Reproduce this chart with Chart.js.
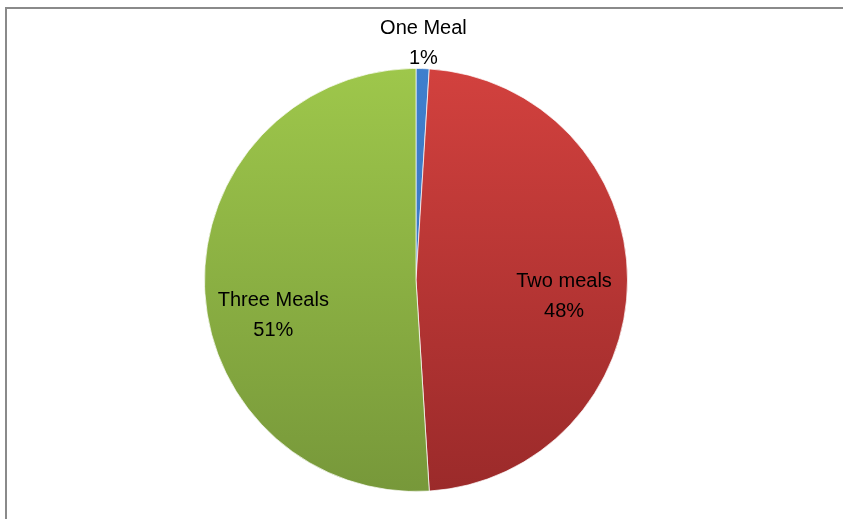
<!DOCTYPE html>
<html>
<head>
<meta charset="utf-8">
<script src="https://cdn.jsdelivr.net/npm/chart.js@4/dist/chart.umd.min.js"></script>
<style>
  html, body { margin: 0; padding: 0; background: #fff; }
  #wrap { width: 843px; height: 519px; }
</style>
</head>
<body>
<div id="wrap"><canvas id="myChart" width="843" height="519"></canvas></div>
<script>
const labels = ["One Meal", "Two meals", "Three Meals"];
const shares = [1, 48, 51];
// top / bottom shade of each slice
const topColors = ["#3f7fcd", "#d2413e", "#9ec74b"];
const bottomColors = ["#3a72b8", "#9b2a2a", "#77983a"];

// where each label sits: outside above the slice, or inside at a fraction of the radius
const labelPlace = [
  { outside: 25, dx: 0, dy: 0 },
  { frac: 0.70, dx: 0, dy: 16 },
  { frac: 0.675, dx: 0, dy: 31 },
];

function sliceFill(ctx) {
  const area = ctx.chart.chartArea;
  if (!area) return topColors[ctx.dataIndex];
  const g = ctx.chart.ctx.createLinearGradient(0, area.top, 0, area.bottom);
  g.addColorStop(0, topColors[ctx.dataIndex]);
  g.addColorStop(1, bottomColors[ctx.dataIndex]);
  return g;
}

const frame = {
  id: "frame",
  beforeDraw(chart) {
    const c = chart.ctx;
    c.save();
    c.fillStyle = "#fff";
    c.fillRect(0, 0, chart.width, chart.height);
    c.strokeStyle = "#8a8a8a";
    c.lineWidth = 2;
    c.beginPath();
    c.moveTo(6, chart.height + 5);
    c.lineTo(6, 8);
    c.lineTo(chart.width + 5, 8);
    c.stroke();
    c.restore();
  },
};

const sliceLabels = {
  id: "sliceLabels",
  afterDatasetsDraw(chart) {
    const c = chart.ctx;
    const meta = chart.getDatasetMeta(0);
    c.save();
    c.font = "20px 'Liberation Sans', Arial, sans-serif";
    c.fillStyle = "#000";
    c.textAlign = "center";
    c.textBaseline = "middle";
    meta.data.forEach((arc, i) => {
      const p = arc.getProps(["x", "y", "startAngle", "endAngle", "outerRadius"], true);
      const mid = (p.startAngle + p.endAngle) / 2;
      const place = labelPlace[i];
      const r = place.outside ? p.outerRadius + place.outside : p.outerRadius * place.frac;
      const x = p.x + Math.cos(mid) * r + place.dx;
      const y = p.y + Math.sin(mid) * r + place.dy;
      c.fillText(labels[i], x, y - 15);
      c.fillText(shares[i] + "%", x, y + 15);
    });
    c.restore();
  },
};

const ctx = document.getElementById("myChart").getContext("2d");
const myChart = new Chart(ctx, {
  type: "pie",
  data: {
    labels: labels,
    datasets: [
      {
        data: shares,
        backgroundColor: sliceFill,
        borderColor: "rgba(255,255,255,0.7)",
        borderWidth: 1,
      },
    ],
  },
  options: {
    responsive: false,
    animation: false,
    layout: {
      padding: { top: 68, bottom: 27, left: 0, right: 11 },
    },
    plugins: {
      legend: { display: false },
      tooltip: { enabled: false },
    },
  },
  plugins: [frame, sliceLabels],
});
</script>
</body>
</html>
